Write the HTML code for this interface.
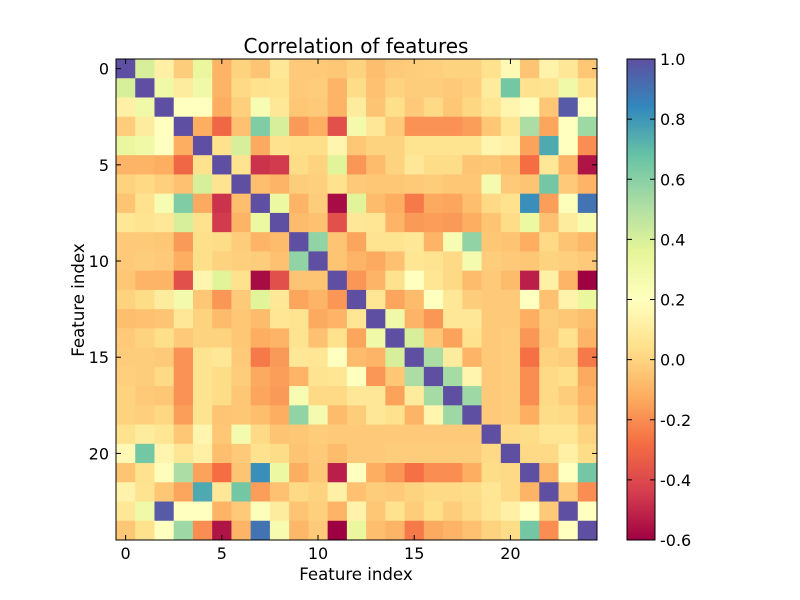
<!DOCTYPE html>
<html><head><meta charset="utf-8"><style>
body{margin:0;background:#fff;}
svg{display:block;font-family:"DejaVu Sans","Liberation Sans",sans-serif;}
</style></head><body>
<svg id="chart" width="800" height="600" viewBox="0 0 800 600">
<rect width="800" height="600" fill="#fff"/>
<text x="356" y="53" text-anchor="middle" font-size="20">Correlation of features</text>
<g id="cells"></g>
<g id="cbar"></g>
<g id="axes"></g>
<text x="356" y="580" text-anchor="middle" font-size="16.6">Feature index</text>
<text x="84" y="300" text-anchor="middle" font-size="16.6" transform="rotate(-90 84 300)">Feature index</text>
</svg>
<script>
// upper triangle rows: row i lists values for columns i..24
const row0=[1,0.4,0.12,-0.02,0.33,-0.1,0,-0.05,0.08,-0.03,-0.03,-0.04,0,-0.07,-0.03,-0.02,-0.01,0,0,0.05,0.17,-0.05,0.14,0.08,-0.04];
const row1=[1,0.3,0.1,0.3,-0.1,0.02,0.05,0.06,-0.03,-0.02,-0.1,0.03,-0.06,0,-0.02,-0.02,-0.03,-0.01,0.1,0.65,0.05,0.06,0.3,0.05];
const row2=[1,0.2,0.2,-0.12,-0.01,0.25,0.08,-0.04,-0.03,-0.1,0.1,-0.05,0.04,-0.03,0.02,-0.04,0.01,0.07,0.15,0.19,-0.04,0.97,0.2];
const row3=[1,-0.12,-0.3,-0.06,0.62,0.4,-0.17,-0.12,-0.38,0.28,0.08,-0.03,-0.19,-0.19,-0.19,-0.16,-0.04,0.07,0.52,-0.14,0.2,0.55];
const row4=[1,0.05,0.4,-0.13,0.05,0.04,0.04,0.15,-0.04,0,0,0.06,0.06,0.06,0.06,0.15,0.12,-0.15,0.75,0.2,-0.2];
const row5=[1,0.06,-0.47,-0.45,0.03,0,0.37,-0.18,-0.08,0,0.08,0.03,0.03,-0.05,-0.04,-0.07,-0.28,0.08,-0.1,-0.55];
const row6=[1,-0.07,-0.1,-0.02,-0.01,0.05,-0.03,-0.04,-0.04,-0.03,-0.02,-0.04,-0.04,0.27,-0.03,-0.05,0.65,-0.03,-0.1];
const row7=[1,0.32,-0.1,-0.02,-0.57,0.37,-0.08,-0.12,-0.25,-0.13,-0.14,-0.07,0.02,0.05,0.82,-0.16,0.22,0.9];
const row8=[1,-0.08,-0.06,-0.38,0.08,0.07,-0.1,-0.17,-0.16,-0.17,-0.12,-0.05,0.03,0.32,-0.06,0.1,0.26];
const row9=[1,0.58,-0.05,-0.14,0.06,0.06,0.08,-0.1,0.25,0.58,-0.04,-0.05,-0.12,0.02,-0.05,-0.09];
const row10=[1,-0.05,-0.1,-0.13,-0.06,0.07,0.06,0.02,0.27,-0.02,-0.03,-0.04,0,-0.01,-0.03];
const row11=[1,-0.18,-0.1,0.05,0.2,0.07,0.02,-0.08,-0.03,-0.08,-0.52,0.12,-0.1,-0.6];
const row12=[1,0.07,-0.14,-0.08,0.2,0.08,-0.02,-0.03,-0.03,0.2,-0.06,0.14,0.33];
const row13=[1,0.3,-0.1,-0.18,0.08,0.08,-0.03,-0.03,-0.12,-0.02,-0.04,-0.07];
const row14=[1,0.4,-0.04,-0.15,0.05,-0.03,-0.02,-0.18,-0.03,0.05,-0.1];
const row15=[1,0.52,0.1,-0.1,-0.03,-0.02,-0.27,0,-0.02,-0.25];
const row16=[1,0.53,0.15,-0.03,-0.02,-0.2,0.02,0.04,-0.13];
const row17=[1,0.55,-0.03,-0.02,-0.2,0.02,-0.02,-0.1];
const row18=[1,-0.03,-0.02,-0.12,0.03,0.02,-0.06];
const row19=[1,0.02,0.03,0.07,0.07,0];
const row20=[1,0.02,0.02,0.12,0.03];
const row21=[1,-0.1,0.2,0.65];
const row22=[1,-0.03,-0.2];
const row23=[1,0.2];
const row24=[1];
const upperRows=[row0,row1,row2,row3,row4,row5,row6,row7,row8,row9,row10,row11,row12,row13,row14,row15,row16,row17,row18,row19,row20,row21,row22,row23,row24];
const axisTicks=[0,5,10,15,20];
const cbarTicks=[-0.6,-0.4,-0.2,0.0,0.2,0.4,0.6,0.8,1.0];
const vmin=-0.6, vmax=1.0;

const NS="http://www.w3.org/2000/svg";
const N=upperRows.length;
const X0=116,Y0=59,W=481,H=481,cw=W/N,ch=H/N;
const xs=i=>X0+i*cw, ys=i=>Y0+i*ch;
const stops=["#9e0142","#d53e4f","#f46d43","#fdae61","#fee08b","#ffffbf","#e6f598","#abdda4","#66c2a5","#3288bd","#5e4fa2"];
function hex(h){return [1,3,5].map(k=>parseInt(h.substr(k,2),16));}
function color(v){let t=(v-vmin)/(vmax-vmin);t=Math.max(0,Math.min(1,t));
 const p=t*10,i=Math.min(9,Math.floor(p)),f=p-i;const a=hex(stops[i]),b=hex(stops[i+1]);
 return "rgb("+a.map((c,k)=>Math.round(c+(b[k]-c)*f)).join(",")+")";}
function mk(tag,attrs,parent){const e=document.createElementNS(NS,tag);for(const k in attrs)e.setAttribute(k,attrs[k]);parent.appendChild(e);return e;}
const M=[];for(let i=0;i<N;i++)M.push(new Array(N));
for(let i=0;i<N;i++)for(let j=i;j<N;j++){M[i][j]=upperRows[i][j-i];M[j][i]=upperRows[i][j-i];}
const cells=document.getElementById("cells");
for(let i=0;i<N;i++)for(let j=0;j<N;j++){
 const r=mk("rect",{x:xs(j),y:ys(i),width:cw+0.5,height:ch+0.5,fill:color(M[i][j])},cells);
 
 
}
const ax=document.getElementById("axes");
mk("rect",{x:X0,y:Y0,width:W,height:H,fill:"none",stroke:"#000","stroke-width":1},ax);
axisTicks.forEach(t=>{
 const cx=xs(t)+cw/2, cy=ys(t)+ch/2;
 mk("line",{x1:cx,x2:cx,y1:Y0+H,y2:Y0+H-5,stroke:"#000"},ax);
 mk("line",{x1:cx,x2:cx,y1:Y0,y2:Y0+5,stroke:"#000"},ax);
 mk("line",{x1:X0,x2:X0+5,y1:cy,y2:cy,stroke:"#000"},ax);
 mk("line",{x1:X0+W,x2:X0+W-5,y1:cy,y2:cy,stroke:"#000"},ax);
 const tx=mk("text",{x:cx,y:Y0+H+19,"text-anchor":"middle","font-size":16},ax);tx.textContent=t;
 
 
 const ty=mk("text",{x:X0-7,y:cy+6,"text-anchor":"end","font-size":16},ax);ty.textContent=t;
 
 
});
const cb=document.getElementById("cbar");
const CX=627,CW=28,CY=59,CH=481;
const cbY=v=>CY+CH-(v-vmin)/(vmax-vmin)*CH;
for(let k=0;k<CH;k++){mk("rect",{x:CX,y:CY+k,width:CW,height:1.5,fill:color(vmax-(k+0.5)/CH*(vmax-vmin))},cb);}
mk("rect",{x:CX,y:CY,width:CW,height:CH,fill:"none",stroke:"#000"},cb);
cbarTicks.forEach(v=>{const y=cbY(v);
 mk("line",{x1:CX+CW-5,x2:CX+CW,y1:y,y2:y,stroke:"#000"},cb);
 mk("line",{x1:CX,x2:CX+5,y1:y,y2:y,stroke:"#000"},cb);
 const t=mk("text",{x:CX+CW+5,y:y+6,"font-size":16},cb);t.textContent=v.toFixed(1);
 
 
});
</script>
</body></html>
